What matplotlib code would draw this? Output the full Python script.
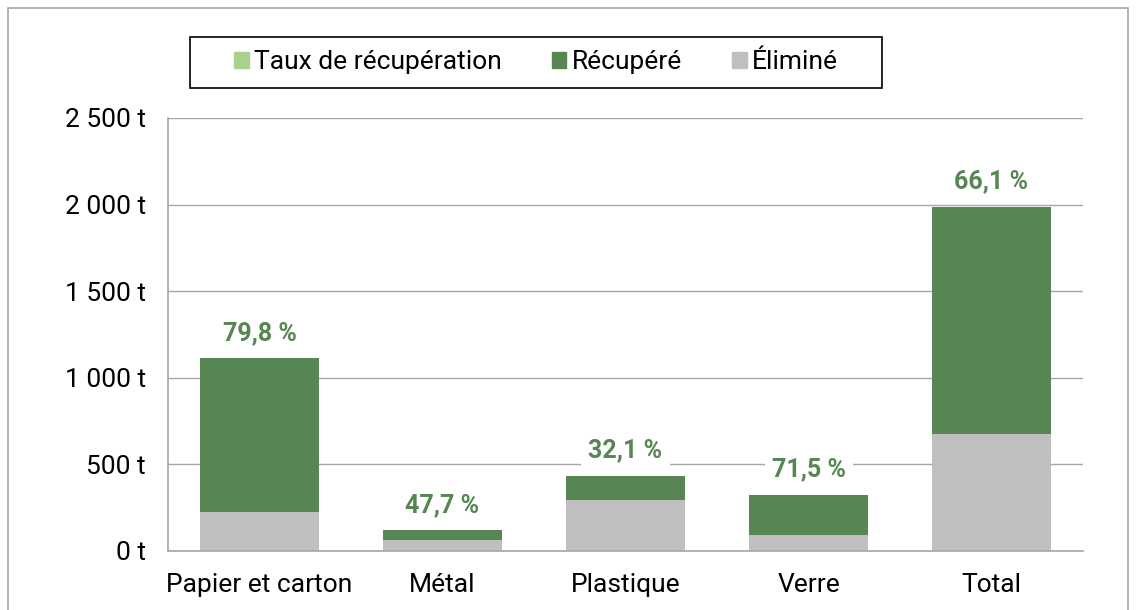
import matplotlib.pyplot as plt
from matplotlib.patches import Rectangle, Patch
from matplotlib.ticker import FuncFormatter

plt.rcParams['font.family'] = ['Roboto', 'DejaVu Sans']

categories = ['Papier et carton', 'Métal', 'Plastique', 'Verre', 'Total']
elimine = [225, 63, 295, 93, 676]
recupere = [890, 57, 140, 232, 1312]
taux = ['79,8 %', '47,7 %', '32,1 %', '71,5 %', '66,1 %']

vert = '#578653'
gris = '#bfbfbf'
vert_clair = '#a9d18e'

fig = plt.figure(figsize=(11.36, 6.10), dpi=100)
ax = fig.add_axes([168 / 1136, 1 - 551 / 610, 915 / 1136, 433 / 610])

x = range(len(categories))
ax.bar(x, elimine, width=0.645, color=gris, zorder=2)
ax.bar(x, recupere, bottom=elimine, width=0.645, color=vert, zorder=2)

for i in x:
    total = elimine[i] + recupere[i]
    ax.annotate(taux[i], (i, total), xytext=(0, 18), textcoords='offset points',
                ha='center', va='center', fontsize=18, fontweight='bold', color=vert,
                bbox=dict(facecolor='white', edgecolor='none', pad=5), zorder=3)

ax.set_xlim(-0.5, len(categories) - 0.5)
ax.set_ylim(0, 2500)
ax.set_yticks(range(0, 2501, 500))
ax.yaxis.set_major_formatter(FuncFormatter(lambda v, p: f'{int(v):,} t'.replace(',', ' ')))
ax.set_xticks(list(x))
ax.set_xticklabels(categories)
ax.tick_params(length=0, labelsize=19, colors='black')
ax.tick_params(axis='y', pad=16)
ax.tick_params(axis='x', pad=16)
ax.grid(axis='y', color='#a6a6a6', linewidth=1, zorder=0)
for s in ['top', 'right']:
    ax.spines[s].set_visible(False)
for s in ['left', 'bottom']:
    ax.spines[s].set_color('#a6a6a6')
    ax.spines[s].set_linewidth(1.2)

handles = [Patch(color=vert_clair), Patch(color=vert), Patch(color=gris)]
fig.legend(handles, ['Taux de récupération', 'Récupéré', 'Éliminé'],
           loc='center', bbox_to_anchor=(536 / 1136, 1 - 62 / 610), ncol=3,
           fontsize=19, frameon=False, handlelength=0.55,
           handleheight=0.55, handletextpad=0.2, columnspacing=1.9,
           borderpad=0, borderaxespad=0)
# cadre de la légende
fig.patches.append(Rectangle((190 / 1136, 1 - 88 / 610), 692 / 1136, 51 / 610,
                             transform=fig.transFigure, fill=False,
                             edgecolor='black', linewidth=1.2))

fig.patches.append(Rectangle((8 / 1136, -0.05), 1120 / 1136, 1.05 - 8 / 610,
                             transform=fig.transFigure, fill=False,
                             edgecolor='#a6a6a6', linewidth=1.2))

fig.savefig('out.png', dpi=100)
